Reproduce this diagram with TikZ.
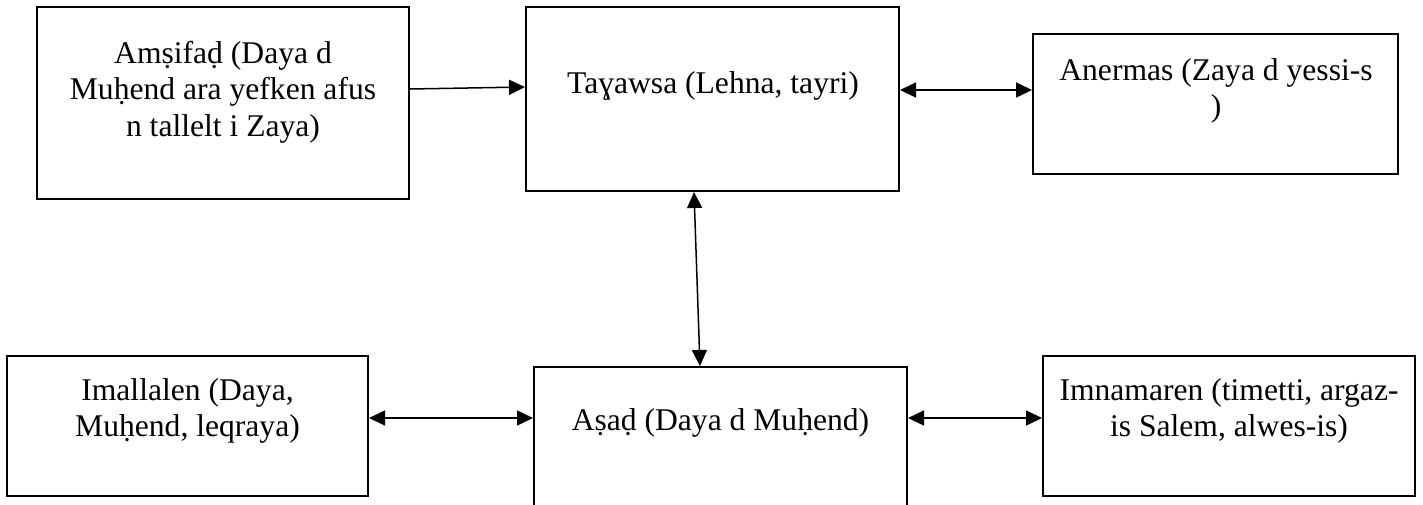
\documentclass[tikz,border=0pt]{standalone}
\usepackage{fontspec}
\setmainfont{Liberation Serif}
\usetikzlibrary{arrows.meta,positioning,calc}
\tikzset{
    block/.style = {draw, rectangle, line width=2pt, inner sep=0pt},
    label/.style = {align=center, inner sep=0pt, anchor=base,
        font=\fontsize{31.6}{36.5}\selectfont},
    link/.style = {draw, line width=1.5pt}
}

\begin{document}
\begin{tikzpicture}[x=1pt, y=-1pt, >={Triangle[length=16pt,width=15pt]}]
    \useasboundingbox (0,0) rectangle (1423,504);
    \node [block, minimum width=372pt, minimum height=192pt, name=amsifad] at (223,103) {};
    \node [block, minimum width=373pt, minimum height=184pt, name=tayawsa] at (712.5,99) {};
    \node [block, minimum width=365pt, minimum height=140pt, name=anermas] at (1215.5,104) {};
    \node [block, minimum width=361pt, minimum height=140pt, name=imallalen] at (187.5,426) {};
    \node [block, minimum width=373pt, minimum height=147pt, name=asad] at (720.5,440.5) {};
    \node [block, minimum width=372pt, minimum height=140pt, name=imnamaren] at (1229,426) {};
    % base anchor sits on the last line
    \node [label, name=amsifad-t] at (223,136) {Amṣifaḍ (Daya d\\Muḥend ara yefken afus\\n tallelt i Zaya)};
    \node [label, name=tayawsa-t] at (713,93) {Taɣawsa (Lehna, tayri)};
    \node [label, name=anermas-t] at (1216,116.5) {Anermas (Zaya d yessi-s\\)};
    \node [label, name=imallalen-t] at (187.5,436.5) {Imallalen (Daya,\\Muḥend, leqraya)};
    \node [label, name=asad-t] at (720.5,430) {Aṣaḍ (Daya d Muḥend)};
    \node [label, name=imnamaren-t] at (1229,436.5) {Imnamaren (timetti, argaz-\\is Salem, alwes-is)};
    \draw [link,->] ([yshift=14pt]amsifad.east) -- ([yshift=12pt]tayawsa.west);
    \draw [link,<->] ([yshift=9pt]tayawsa.east) -- ([yshift=14pt]anermas.west);
    \draw [link,<->] ([xshift=-18.5pt]tayawsa.south) -- ([xshift=-20.5pt]asad.north);
    \draw [link,<->] ([yshift=8pt]imallalen.east) -- ([yshift=22.5pt]asad.west);
    \draw [link,<->] ([yshift=22.5pt]asad.east) -- ([yshift=8pt]imnamaren.west);
\end{tikzpicture}
\end{document}
